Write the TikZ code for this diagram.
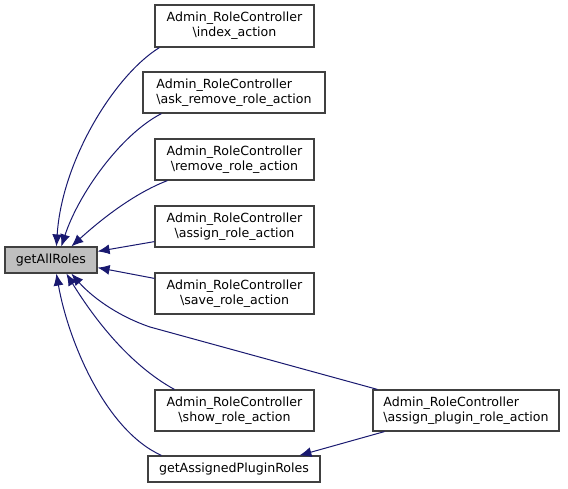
\documentclass[tikz,border=0pt]{standalone}
\usepackage{fontspec}
\setmainfont{DejaVu Sans}
\usetikzlibrary{arrows.meta}
\definecolor{edgeblue}{HTML}{191970}
\definecolor{boxline}{HTML}{404040}
\definecolor{boxgray}{HTML}{BFBFBF}
\begin{document}
\begin{tikzpicture}[x=1pt,y=-1pt,
  box/.style={draw=boxline,line width=1.2pt,fill=white,inner sep=0pt,align=center,
    font=\fontsize{12.6}{15}\selectfont},
  lbox/.style={box,align=left},
  edge/.style={draw=edgeblue,line width=1pt,-{Latex[length=12pt,width=10pt]}}]
\useasboundingbox[fill=white] (0,0) rectangle (568,488);
\node[box,fill=boxgray,minimum width=92pt,minimum height=26pt] (gar) at (51,260) {getAllRoles};
\node[box,minimum width=159pt,minimum height=42pt] (idx) at (234.5,26) {Admin\_RoleController\\\textbackslash index\_action};
\node[lbox,minimum width=182pt,minimum height=41pt] (ask) at (234,92.5) {Admin\_RoleController\\\textbackslash ask\_remove\_role\_action};
\node[box,minimum width=159pt,minimum height=41pt] (rem) at (234.5,159.5) {Admin\_RoleController\\\textbackslash remove\_role\_action};
\node[box,minimum width=159pt,minimum height=41pt] (asg) at (234.5,226.5) {Admin\_RoleController\\\textbackslash assign\_role\_action};
\node[box,minimum width=159pt,minimum height=41pt] (sav) at (234.5,293.5) {Admin\_RoleController\\\textbackslash save\_role\_action};
\node[box,minimum width=159pt,minimum height=41pt] (shw) at (234.5,410.5) {Admin\_RoleController\\\textbackslash show\_role\_action};
\node[lbox,minimum width=186pt,minimum height=41pt] (plg) at (466,410.5) {Admin\_RoleController\\\textbackslash assign\_plugin\_role\_action};
\node[box,minimum width=172pt,minimum height=26pt] (gap) at (234,469) {getAssignedPluginRoles};
% edges
\path[edge] ([xshift=5pt]idx.south west) .. controls (115,75) and (62,160) .. ([xshift=52pt]gar.north west);
\path[edge] ([xshift=19pt]ask.south west) .. controls (120,135) and (78,195) .. ([xshift=57pt]gar.north west);
\path[edge] ([xshift=13pt]rem.south west) .. controls (130,195) and (95,225) .. ([xshift=67pt]gar.north west);
\path[edge] ([yshift=6pt]asg.south west) -- ([yshift=-5pt]gar.north east);
\path[edge] ([yshift=-6pt]sav.north west) -- ([yshift=6pt]gar.south east);
\path[edge] ([xshift=5pt]plg.north west) -- (150,327) .. controls (115,315) and (90,295) .. ([xshift=67pt]gar.south west);
\path[edge] ([xshift=20pt]shw.north west) .. controls (130,365) and (95,320) .. ([xshift=62pt]gar.south west);
\path[edge] ([xshift=14pt]gap.north west) .. controls (105,430) and (68,340) .. ([xshift=52pt]gar.south west);
\path[edge] ([xshift=12pt]plg.south west) -- ([xshift=152pt]gap.north west);
\end{tikzpicture}
\end{document}
